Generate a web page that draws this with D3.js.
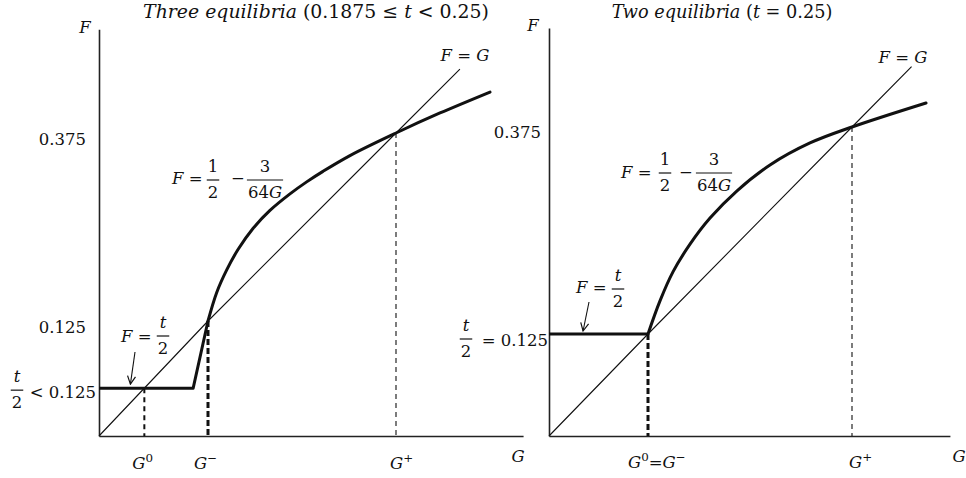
<!DOCTYPE html>
<html>
<head>
<meta charset="utf-8">
<script src="https://cdn.jsdelivr.net/npm/d3@7"></script>
<style>
  body { margin: 0; background: #fff; }
  svg text { font-family: "DejaVu Serif", "Liberation Serif", serif; fill: #111; }
</style>
</head>
<body>
<svg id="chart" width="966" height="478"></svg>
<script>
// ---------- data: left panel, three equilibria (0.1875 <= t < 0.25) ----------
const leftKnotsG = [0, 0.125, 0.375];          // G values pinned on the G axis
const leftKnotsF = [0, 0.125, 0.375];          // F values pinned on the F axis
const leftHalfT = 0.052;                        // F = t/2 (< 0.125)
const leftKinkG = 0.108;                        // end of the flat part
const leftCurveG = [0.125, 0.1366, 0.1499, 0.1649, 0.1848, 0.2074, 0.2340, 0.2562, 0.2779, 0.3138, 0.375, 0.4335, 0.5];
const leftCurveF = [0.125, 0.163, 0.193, 0.220, 0.248, 0.272, 0.294, 0.310, 0.324, 0.345, 0.375, 0.4016, 0.4295];
const leftDiagonal = [0, 0.125, 0.375, 0.46];   // F = G
const leftEquilibria = [leftHalfT, 0.125, 0.375];   // G0, G-, G+
const leftGMax = 0.544, leftFMax = 0.513;
const leftYTickValues = [0.375, 0.125];
const leftYTickLabels = ["0.375", "0.125"];

// ---------- data: right panel, two equilibria (t = 0.25) ----------
const rightKnotsG = [0, 0.125, 0.375];
const rightKnotsF = [0, 0.125, 0.375];
const rightHalfT = 0.125;                       // F = t/2 = 0.125
const rightCurveG = [0.125, 0.1397, 0.1556, 0.1765, 0.2010, 0.2341, 0.2745, 0.3235, 0.375, 0.4657];
const rightCurveF = [0.125, 0.165, 0.200, 0.2335, 0.265, 0.298, 0.3291, 0.3557, 0.375, 0.404];
const rightDiagonal = [0, 0.125, 0.375, 0.448];
const rightEquilibria = [0.125, 0.375];         // G0 = G-, G+
const rightGMax = 0.495, rightFMax = 0.4946;
const rightYTickValues = [0.375];
const rightYTickLabels = ["0.375"];

const svg = d3.select("#chart");
const FS = 16.5;

// open arrowhead for the F = t/2 pointers
svg.append("defs").append("marker")
  .attr("id", "arrowOpen").attr("viewBox", "0 0 10 10")
  .attr("refX", 9).attr("refY", 5).attr("markerWidth", 10).attr("markerHeight", 10)
  .attr("markerUnits", "userSpaceOnUse").attr("orient", "auto")
  .append("path").attr("d", "M1,1 L9,5 L1,9")
  .attr("fill", "none").attr("stroke", "#111").attr("stroke-width", 1.2);

// text helpers: runs of [string, italic?, superscript?]
function richText(g, x, y, runs, anchor, size) {
  const fs = size || FS;
  const t = g.append("text").attr("x", x).attr("y", y)
    .attr("text-anchor", anchor || "start").attr("font-size", fs);
  runs.forEach(([s, it, sup]) => {
    const ts = t.append("tspan").text(s).attr("font-style", it ? "italic" : "normal");
    if (sup) ts.attr("font-size", fs * 0.72).attr("baseline-shift", "super");
  });
  return t;
}
// scale a text's font so that it spans the given width
function fitWidth(t, width) {
  const w = t.node().getComputedTextLength();
  const fs = +t.attr("font-size") * width / w;
  t.attr("font-size", fs);
}
function fraction(g, cx, barY, num, den, numIt) {
  const n = g.append("text").attr("x", cx).attr("y", barY - 8).attr("text-anchor", "middle")
    .attr("font-size", FS).attr("font-style", numIt ? "italic" : "normal").text(num);
  const d = g.append("text").attr("x", cx).attr("y", barY + 18).attr("text-anchor", "middle")
    .attr("font-size", FS);
  den.forEach(([s, it]) => d.append("tspan").text(s).attr("font-style", it ? "italic" : "normal"));
  const w = Math.max(n.node().getComputedTextLength(), d.node().getComputedTextLength()) + 2;
  g.append("line").attr("x1", cx - w / 2).attr("x2", cx + w / 2)
    .attr("y1", barY).attr("y2", barY).attr("stroke", "#111").attr("stroke-width", 1.2);
}

function panel(cfg) {
  const g = svg.append("g");
  const x = d3.scaleLinear().domain(cfg.knotsG).range(cfg.rangeG);
  const y = d3.scaleLinear().domain(cfg.knotsF).range(cfg.rangeF);

  // axes: bare lines, no ticks
  g.append("g").attr("transform", `translate(0,${y(0)})`)
    .call(d3.axisBottom(x.copy().domain([0, cfg.gMax]).range([x(0), x(cfg.gMax)])).tickValues([]).tickSizeOuter(0))
    .select(".domain").attr("stroke", "#222").attr("stroke-width", 1.6);
  g.append("g").attr("transform", `translate(${x(0)},0)`)
    .call(d3.axisLeft(y.copy().domain([0, cfg.fMax]).range([y(0), y(cfg.fMax)])).tickValues([]).tickSizeOuter(0))
    .select(".domain").attr("stroke", "#222").attr("stroke-width", 1.6);

  // F = G
  g.append("path").datum(cfg.diagonal)
    .attr("d", d3.line().x(d => x(d)).y(d => y(d)))
    .attr("fill", "none").attr("stroke", "#111").attr("stroke-width", 1.1);

  // dashed drops from the equilibria
  cfg.drops.forEach(dp => {
    g.append("line").attr("x1", x(dp.g)).attr("x2", x(dp.g))
      .attr("y1", y(dp.f)).attr("y2", y(0))
      .attr("stroke", "#111").attr("stroke-width", dp.w).attr("stroke-dasharray", dp.dash);
  });

  // best response: flat part F = t/2, then the curve F = 1/2 - 3/(64G)
  g.append("path").datum(cfg.flat)
    .attr("d", d3.line().x(d => x(d[0])).y(d => y(d[1])))
    .attr("fill", "none").attr("stroke", "#111").attr("stroke-width", 3).attr("stroke-linejoin", "round");
  g.append("path").datum(d3.zip(cfg.curveG, cfg.curveF))
    .attr("d", d3.line().x(d => x(d[0])).y(d => y(d[1])).curve(d3.curveCatmullRom.alpha(0.5)))
    .attr("fill", "none").attr("stroke", "#111").attr("stroke-width", 3).attr("stroke-linecap", "round");

  return { g, x, y };
}

// ---------------- left panel ----------------
const L = panel({
  knotsG: leftKnotsG, knotsF: leftKnotsF, rangeG: [99, 208, 396], rangeF: [436, 321, 133],
  gMax: leftGMax, fMax: leftFMax, diagonal: leftDiagonal,
  flat: [[0, leftHalfT], [leftKinkG, leftHalfT], [0.125, 0.125]],
  curveG: leftCurveG, curveF: leftCurveF,
  drops: [
    { g: leftEquilibria[0], f: leftHalfT, w: 2, dash: "5,4" },
    { g: leftEquilibria[1], f: leftEquilibria[1], w: 3, dash: "6,3" },
    { g: leftEquilibria[2], f: leftEquilibria[2], w: 1.1, dash: "5,4" }
  ]
});

fitWidth(richText(svg, 316, 18, [["Three equilibria ", true], ["(0.1875 ≤ ", false], ["t", true], [" < 0.25)", false]], "middle"), 346);
richText(svg, 85, 33, [["F", true]], "middle");
richText(svg, 518, 462, [["G", true]], "middle");
leftYTickValues.forEach((v, i) =>
  svg.append("text").attr("x", 86).attr("y", L.y(v) + 12).attr("text-anchor", "end")
    .attr("font-size", FS).text(leftYTickLabels[i]));
// t/2 < 0.125
fraction(svg, 17, L.y(leftHalfT) + 2, "t", [["2", false]], true);
svg.append("text").attr("x", 96).attr("y", L.y(leftHalfT) + 10).attr("text-anchor", "end")
  .attr("font-size", FS).text("< 0.125");
// G labels under the axis
richText(svg, L.x(leftEquilibria[0]) - 12, 469, [["G", true], ["0", false, true]]);
richText(svg, L.x(leftEquilibria[1]) - 14, 469, [["G", true], ["−", false, true]]);
richText(svg, L.x(leftEquilibria[2]) - 6, 469, [["G", true], ["+", false, true]]);
// F = G
richText(svg, 465, 61, [["F", true], [" = ", false], ["G", true]], "middle");
// F = 1/2 - 3/(64G)
richText(svg, 172, 184, [["F", true], [" =", false]]);
fraction(svg, 213, 180, "1", [["2", false]]);
svg.append("text").attr("x", 238).attr("y", 184).attr("text-anchor", "middle").attr("font-size", FS).text("−");
fraction(svg, 265, 180, "3", [["64", false], ["G", true]]);
// F = t/2 with pointer
richText(svg, 121, 342, [["F", true], [" =", false]]);
fraction(svg, 163, 336, "t", [["2", false]], true);
svg.append("line").attr("x1", 135).attr("y1", 352).attr("x2", L.x(0.036)).attr("y2", L.y(leftHalfT) - 4)
  .attr("stroke", "#111").attr("stroke-width", 1.1).attr("marker-end", "url(#arrowOpen)");

// ---------------- right panel ----------------
const R = panel({
  knotsG: rightKnotsG, knotsF: rightKnotsF, rangeG: [549, 648, 852], rangeF: [436, 334, 127],
  gMax: rightGMax, fMax: rightFMax, diagonal: rightDiagonal,
  flat: [[0, rightHalfT], [0.125, rightHalfT]],
  curveG: rightCurveG, curveF: rightCurveF,
  drops: [
    { g: rightEquilibria[0], f: rightEquilibria[0], w: 3, dash: "6,3" },
    { g: rightEquilibria[1], f: rightEquilibria[1], w: 1.1, dash: "5,4" }
  ]
});

fitWidth(richText(svg, 722, 18, [["Two equilibria ", true], ["(", false], ["t", true], [" = 0.25)", false]], "middle"), 221);
richText(svg, 533, 31, [["F", true]], "middle");
richText(svg, 959, 462, [["G", true]], "middle");
rightYTickValues.forEach((v, i) =>
  svg.append("text").attr("x", 541).attr("y", R.y(v) + 11).attr("text-anchor", "end")
    .attr("font-size", FS).text(rightYTickLabels[i]));
// t/2 = 0.125
fraction(svg, 466, R.y(rightHalfT) + 5, "t", [["2", false]], true);
svg.append("text").attr("x", 548).attr("y", R.y(rightHalfT) + 12).attr("text-anchor", "end")
  .attr("font-size", FS).text("= 0.125");
richText(svg, R.x(rightEquilibria[0]) - 20, 468, [["G", true], ["0", false, true], ["=", false], ["G", true], ["−", false, true]]);
richText(svg, R.x(rightEquilibria[1]) - 3, 468, [["G", true], ["+", false, true]]);
richText(svg, 903, 63, [["F", true], [" = ", false], ["G", true]], "middle");
richText(svg, 621, 178, [["F", true], [" =", false]]);
fraction(svg, 665, 173, "1", [["2", false]]);
svg.append("text").attr("x", 686).attr("y", 178).attr("text-anchor", "middle").attr("font-size", FS).text("−");
fraction(svg, 714, 173, "3", [["64", false], ["G", true]]);
richText(svg, 576, 293, [["F", true], [" =", false]]);
fraction(svg, 618, 289, "t", [["2", false]], true);
svg.append("line").attr("x1", 589).attr("y1", 302).attr("x2", R.x(0.043)).attr("y2", R.y(rightHalfT) - 3)
  .attr("stroke", "#111").attr("stroke-width", 1.1).attr("marker-end", "url(#arrowOpen)");
</script>
</body>
</html>
